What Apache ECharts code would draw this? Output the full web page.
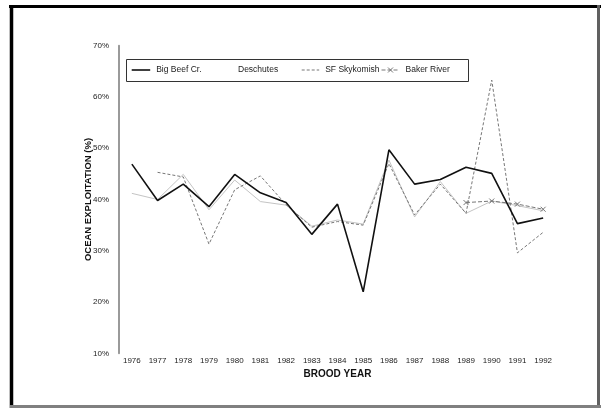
<!DOCTYPE html>
<html>
<head>
<meta charset="utf-8">
<script src="https://cdn.jsdelivr.net/npm/echarts@6/dist/echarts.min.js"></script>
<style>
  html, body { margin: 0; padding: 0; background: #fff; }
  #chart { width: 601px; height: 408px; }
</style>
</head>
<body>
<div id="chart"></div>
<script>
// Brood years on the category axis
const broodYears = ['1976','1977','1978','1979','1980','1981','1982','1983','1984',
  '1985','1986','1987','1988','1989','1990','1991','1992'];

// Ocean exploitation rates (%) per stock
const bigBeef     = [46.9, 39.8, 43.0, 38.6, 44.9, 41.3, 39.4, 33.2, 39.1, 22.0, 49.7, 43.0, 43.9, 46.3, 45.1, 35.3, 36.4];
const deschutes   = [41.2, 40.0, 44.9, 38.0, 43.8, 39.6, 38.9, 34.8, 36.0, 35.2, 47.7, 36.6, 43.5, 37.3, 39.7, 38.8, 37.8];
const sfSkykomish = [null, 45.3, 44.4, 31.3, 41.9, 44.6, 39.0, 34.6, 35.7, 35.0, 47.0, 37.0, 43.0, 37.3, 63.3, 29.6, 33.6];
const bakerRiver  = [null, null, null, null, null, null, null, null, null, null, null, null, null, 39.4, 39.7, 39.1, 38.1];

// Y axis ticks (percent)
const yMin = 10, yMax = 70, yStep = 10;

const chart = echarts.init(document.getElementById('chart'), null, { renderer: 'canvas' });
const FONT = 'Liberation Sans, Arial, sans-serif';

// line styles shared by the series and their legend keys
const STYLE = {
  bigBeef:   { stroke: '#111', lineWidth: 1.6 },
  deschutes: { stroke: '#c4c4c4', lineWidth: 1 },
  sf:        { stroke: '#777', lineWidth: 1, lineDash: [3, 2] },
  baker:     { stroke: '#777', lineWidth: 1, lineDash: [4, 2] }
};

// legend key drawn as a short line followed by its label
function legendKey(x, w, style, label, cy) {
  const els = [];
  if (style) {
    els.push({ type: 'line', shape: { x1: x, y1: cy, x2: x + w, y2: cy }, style: Object.assign({}, style), z: 10 });
  }
  els.push({ type: 'text', x: x + w + 6, y: cy,
    style: { text: label, font: '8.5px ' + FONT, fill: '#222', verticalAlign: 'middle' }, z: 10 });
  return els;
}

// small cross used as the Baker River key mark
function crossMark(cx, cy, r) {
  const s = { stroke: '#777', lineWidth: 1 };
  return [
    { type: 'line', shape: { x1: cx - r, y1: cy - r, x2: cx + r, y2: cy + r }, style: Object.assign({}, s), z: 10 },
    { type: 'line', shape: { x1: cx + r, y1: cy - r, x2: cx - r, y2: cy + r }, style: Object.assign({}, s), z: 10 }
  ];
}

const LEG_Y = 70;
const legendEls = [].concat(
  legendKey(131.7, 18.5, STYLE.bigBeef, 'Big Beef Cr.', LEG_Y),
  legendKey(213.5, 18.5, null, 'Deschutes', LEG_Y),
  legendKey(301.7, 17.5, STYLE.sf, 'SF Skykomish', LEG_Y),
  legendKey(381.5, 18, STYLE.baker, 'Baker River', LEG_Y),
  crossMark(390.5, LEG_Y, 2.5)
);

chart.setOption({
  animation: false,
  backgroundColor: '#fff',
  grid: { left: 119, right: 45, top: 45.7, bottom: 54.7, containLabel: false },
  xAxis: {
    type: 'category',
    data: broodYears,
    boundaryGap: true,
    name: 'BROOD YEAR',
    nameLocation: 'middle',
    nameGap: 14,
    nameTextStyle: { fontFamily: FONT, fontSize: 10, fontWeight: 'bold', color: '#111' },
    axisLine: { show: false },
    axisTick: { show: false },
    axisLabel: { fontFamily: FONT, fontSize: 8, color: '#222', margin: 3, interval: 0 }
  },
  yAxis: {
    type: 'value',
    min: yMin, max: yMax, interval: yStep,
    name: 'OCEAN EXPLOITATION (%)',
    nameLocation: 'middle',
    nameGap: 26,
    nameMoveOverlap: false,
    nameTextStyle: { fontFamily: FONT, fontSize: 9.5, fontWeight: 'bold', color: '#111' },
    axisLine: { show: true, lineStyle: { color: '#9a9a9a', width: 2 } },
    axisTick: { show: false },
    splitLine: { show: false },
    axisLabel: { fontFamily: FONT, fontSize: 8, color: '#222', margin: 10, formatter: '{value}%' }
  },
  series: [
    {
      name: 'Big Beef Cr.', type: 'line', data: bigBeef, symbol: 'none',
      lineStyle: { color: STYLE.bigBeef.stroke, width: STYLE.bigBeef.lineWidth }, z: 5
    },
    {
      name: 'Deschutes', type: 'line', data: deschutes, symbol: 'none',
      lineStyle: { color: STYLE.deschutes.stroke, width: STYLE.deschutes.lineWidth }, z: 2
    },
    {
      name: 'SF Skykomish', type: 'line', data: sfSkykomish, symbol: 'none',
      lineStyle: { color: STYLE.sf.stroke, width: STYLE.sf.lineWidth, type: STYLE.sf.lineDash }, z: 3
    },
    {
      name: 'Baker River', type: 'line', data: bakerRiver,
      symbol: 'path://M0,0L10,10M10,0L0,10', symbolSize: 5,
      lineStyle: { color: STYLE.baker.stroke, width: STYLE.baker.lineWidth, type: STYLE.baker.lineDash },
      itemStyle: { color: 'none', borderColor: '#777', borderWidth: 1 }, z: 3
    }
  ],
  graphic: [
    // legend frame
    { type: 'rect', shape: { x: 126.5, y: 59.5, width: 342, height: 22 },
      style: { fill: '#fff', stroke: '#333', lineWidth: 1 }, z: 9 },
    // page frame
    { type: 'line', shape: { x1: 9, y1: 6.5, x2: 601, y2: 6.5 }, style: { stroke: '#000', lineWidth: 3 } },
    { type: 'line', shape: { x1: 11.5, y1: 5, x2: 11.5, y2: 408 }, style: { stroke: '#000', lineWidth: 3.5 } },
    { type: 'line', shape: { x1: 598.5, y1: 5, x2: 598.5, y2: 408 }, style: { stroke: '#606060', lineWidth: 3 } },
    { type: 'line', shape: { x1: 10, y1: 406.5, x2: 601, y2: 406.5 }, style: { stroke: '#808080', lineWidth: 3 } }
  ].concat(legendEls)
});
</script>
</body>
</html>
